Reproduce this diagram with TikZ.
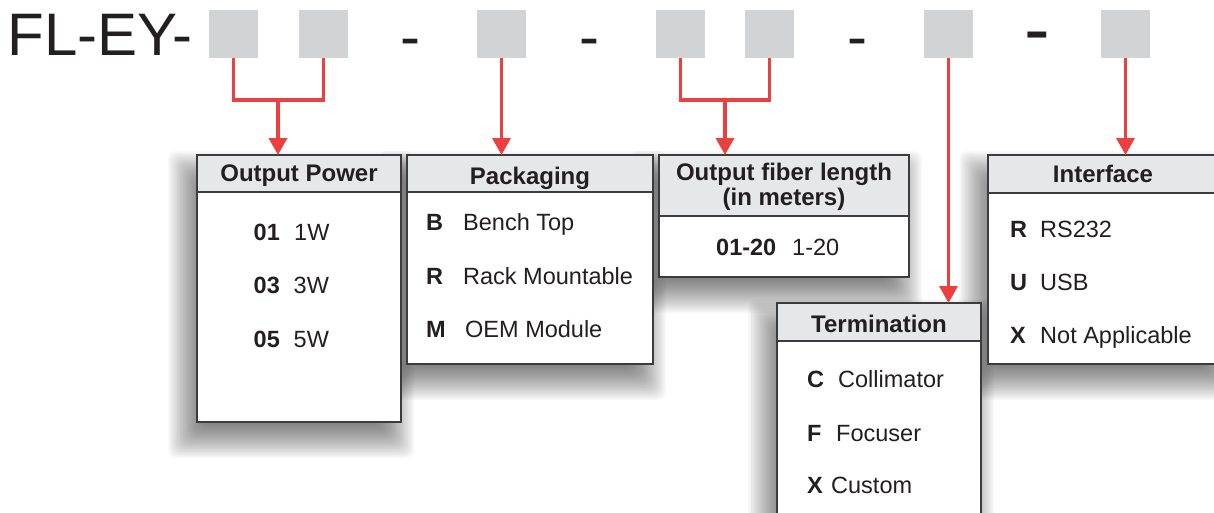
\documentclass[tikz,border=0pt]{standalone}
\usepackage{fontspec}
\setmainfont{Liberation Sans}
\usetikzlibrary{arrows.meta}
\definecolor{ink}{HTML}{231F20}
\definecolor{edge}{HTML}{3C3B3D}
\definecolor{hdrgray}{HTML}{E6E7E8}
\definecolor{sqgray}{HTML}{D1D3D4}
\definecolor{redc}{HTML}{EC4040}
\pgfdeclarelayer{background}
\pgfsetlayers{background,main}
\newcommand{\mysoftshadow}[1]{%
  \foreach \k [evaluate=\k as \e using -16+1.5*\k] in {0,...,24}{%
    \fill[black,opacity=0.026,rounded corners=8pt]
      ([shift={({-9-\e},{16-\e})}]#1.north west) rectangle ([shift={({-7+\e},{16+\e})}]#1.south east);
  }}
\begin{document}
\begin{tikzpicture}[x=1pt,y=-1pt,text=ink,
  sq/.style={fill=sqgray,minimum width=49pt,minimum height=48pt,inner sep=0pt,outer sep=0pt,anchor=north west},
  tbl/.style={draw=edge,line width=1.7pt,fill=white,inner sep=0pt,outer sep=0pt,anchor=north west},
  hdr/.style={draw=edge,line width=1.7pt,fill=hdrgray,inner sep=0pt,outer sep=0pt,anchor=north west},
  htxt/.style={anchor=base,inner sep=0pt,font=\fontsize{24}{28}\selectfont\bfseries},
  itemcode/.style={anchor=base west,inner sep=0pt,font=\fontsize{23.5}{28}\selectfont\bfseries},
  itemval/.style={anchor=base west,inner sep=0pt,font=\fontsize{23.5}{28}\selectfont},
  conn/.style={draw=redc,line width=3.6pt,line join=miter},
  arr/.style={conn,-{Triangle[width=18pt,length=17pt]}},
  ttl/.style={inner sep=0pt,font=\fontsize{60}{70}\selectfont}]
\useasboundingbox (0,0) rectangle (1214,512);

% title and code squares
\node[ttl,anchor=base west] (title) at (7.5,55) {FL-EY-};
\node[sq] (s1) at (209,10) {};
\node[sq] (s2) at (299,10) {};
\node[ttl,anchor=base] (d1) at (410,57) {-};
\node[sq] (s3) at (477,10) {};
\node[ttl,anchor=base] (d2) at (589,57) {-};
\node[sq] (s4) at (656,10) {};
\node[sq] (s5) at (745,10) {};
\node[ttl,anchor=base] (d3) at (857,57) {-};
\node[sq] (s6) at (924,10) {};
\node[ttl,anchor=base,font=\fontsize{77}{90}\selectfont] (d4) at (1037.5,55) {-};
\node[sq] (s7) at (1101,10) {};

% Output Power
\node[tbl,minimum width=204pt,minimum height=267pt] (op) at (197,155) {};
\node[hdr,minimum width=204pt,minimum height=37pt] (oph) at (197,155) {};
\node[htxt] (opt) at (299,181) {Output Power};
\node[itemcode] (op1c) at (253.5,240) {01};
\node[itemval] (op1v) at (294,240) {1W};
\node[itemcode] (op2c) at (253.5,293) {03};
\node[itemval] (op2v) at (293.5,293) {3W};
\node[itemcode] (op3c) at (253.5,347) {05};
\node[itemval] (op3v) at (293.5,347) {5W};

% Packaging
\node[tbl,minimum width=246pt,minimum height=209pt] (pk) at (407,155) {};
\node[hdr,minimum width=246pt,minimum height=37pt] (pkh) at (407,155) {};
\node[htxt] (pkt) at (530,184) {Packaging};
\node[itemcode] (pk1c) at (426,230) {B};
\node[itemval] (pk1v) at (463,230) {Bench Top};
\node[itemcode] (pk2c) at (426,284) {R};
\node[itemval] (pk2v) at (463,284) {Rack Mountable};
\node[itemcode] (pk3c) at (426,337) {M};
\node[itemval] (pk3v) at (465,337) {OEM Module};

% Output fiber length
\node[tbl,minimum width=250pt,minimum height=122pt] (of) at (659,155) {};
\node[hdr,minimum width=250pt,minimum height=61pt] (ofh) at (659,155) {};
\node[htxt] (oft1) at (784,180) {Output fiber length};
\node[htxt] (oft2) at (784,205) {(in meters)};
\node[itemcode] (of1c) at (716,255) {01-20};
\node[itemval] (of1v) at (792,255) {1-20};

% Interface
\node[tbl,minimum width=240pt,minimum height=209pt] (itf) at (988,155) {};
\node[hdr,minimum width=240pt,minimum height=38pt] (itfh) at (988,155) {};
\node[htxt] (itft) at (1103,182) {Interface};
\node[itemcode] (itf1c) at (1010,237) {R};
\node[itemval] (itf1v) at (1040,237) {RS232};
\node[itemcode] (itf2c) at (1010,290) {U};
\node[itemval] (itf2v) at (1040,290) {USB};
\node[itemcode] (itf3c) at (1010,343) {X};
\node[itemval] (itf3v) at (1040,343) {Not Applicable};

% Termination
\node[tbl,minimum width=204pt,minimum height=240pt] (tm) at (777,303) {};
\node[hdr,minimum width=204pt,minimum height=38pt] (tmh) at (777,303) {};
\node[htxt] (tmt) at (879,332) {Termination};
\node[itemcode] (tm1c) at (807,387) {C};
\node[itemval] (tm1v) at (838,387) {Collimator};
\node[itemcode] (tm2c) at (807,441) {F};
\node[itemval] (tm2v) at (836,441) {Focuser};
\node[itemcode] (tm3c) at (807,493) {X};
\node[itemval] (tm3v) at (831,493) {Custom};

% soft shadows behind the tables
\begin{pgfonlayer}{background}
  \mysoftshadow{op}
  \mysoftshadow{pk}
  \mysoftshadow{of}
  \mysoftshadow{itf}
  \mysoftshadow{tm}
\end{pgfonlayer}

% connectors
\coordinate (j1) at (278,100);
\coordinate (j2) at (725,100);
\draw[conn] (s1.south) |- (j1) -| (s2.south);
\draw[arr] (j1) -- (j1 |- op.north);
\draw[arr] (s3.south) -- (s3.south |- pk.north);
\draw[conn] (s4.south) |- (j2) -| (s5.south);
\draw[arr] (j2) -- (j2 |- of.north);
\draw[arr] (s6.south) -- (s6.south |- tm.north);
\draw[arr] (s7.south) -- (s7.south |- itf.north);
\end{tikzpicture}
\end{document}
